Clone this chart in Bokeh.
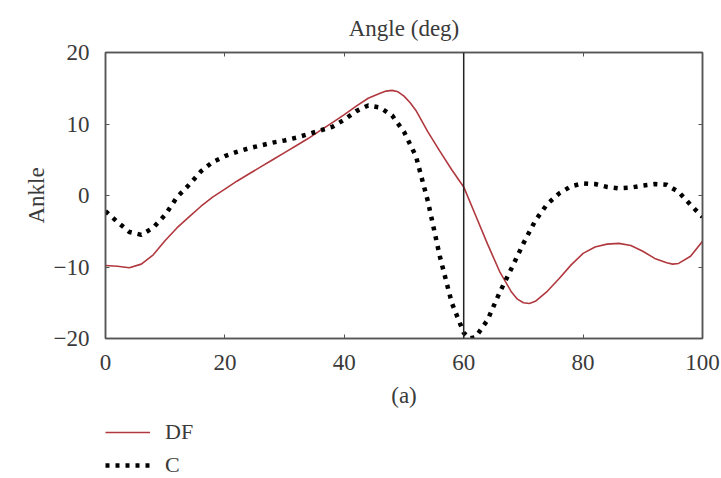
from bokeh.plotting import figure
from bokeh.layouts import column
from bokeh.models import LinearAxis, Span, Legend, LegendItem, FixedTicker, Range1d, Title
from bokeh.embed import file_html
from bokeh.resources import INLINE

x_df = [0, 2, 4, 6, 8, 10, 12, 14, 16, 18, 20, 22, 24, 26, 28, 30, 32, 34, 36, 38, 40,
        42, 44, 46, 47, 48, 49, 50, 51, 52, 54, 56, 58, 60, 62, 64, 66, 68, 69, 70, 71, 72,
        74, 76, 78, 80, 82, 84, 86, 88, 90, 92, 94, 95, 96, 98, 100]
df_vals = [-9.8, -9.9, -10.1, -9.6, -8.3, -6.3, -4.5, -3.0, -1.5, -0.2, 0.9, 2.0, 3.0, 4.0,
           5.0, 6.0, 7.0, 8.0, 9.1, 10.2, 11.3, 12.5, 13.6, 14.3, 14.6, 14.7, 14.5, 13.9,
           13.0, 11.9, 8.9, 6.2, 3.6, 1.2, -2.8, -6.8, -10.6, -13.5, -14.5, -15.0, -15.1,
           -14.8, -13.4, -11.6, -9.7, -8.1, -7.2, -6.8, -6.7, -7.0, -7.8, -8.8, -9.4, -9.6,
           -9.5, -8.5, -6.4]

x_c = [0, 2, 4, 6, 8, 10, 12, 14, 16, 18, 20, 22, 24, 26, 28, 30, 32, 34, 36, 38, 40,
       42, 44, 46, 48, 50, 52, 54, 56, 58, 60, 61, 62, 64, 66, 68, 70, 72, 74, 76, 78, 80,
       82, 84, 86, 88, 90, 92, 94, 96, 98, 100]
c_vals = [-2.2, -3.7, -5.1, -5.5, -4.5, -2.7, -0.2, 1.5, 3.4, 4.7, 5.5, 6.1, 6.6, 7.0, 7.4,
          7.7, 8.1, 8.6, 9.1, 9.6, 10.6, 11.8, 12.6, 12.3, 11.2, 8.9, 5.5, -0.8, -8.5, -15.0,
          -19.2, -20.0, -19.8, -17.4, -13.6, -10.2, -6.7, -3.5, -1.2, 0.3, 1.3, 1.7, 1.6, 1.2,
          1.0, 1.1, 1.4, 1.6, 1.5, 0.5, -1.3, -3.0]

x_ticks = [0, 20, 40, 60, 80, 100]
y_ticks = [-20, -10, 0, 10, 20]
marker_x = 60
series_names = ["DF", "C"]

FONT = "Liberation Serif"
TXT = "#3a3a3a"
AX = "#555555"
DF_COLOR = "#b0383e"

p = figure(frame_width=597, frame_height=286, output_backend="svg", toolbar_location=None,
           x_range=Range1d(0, 100), y_range=Range1d(-20, 20),
           min_border_left=105, min_border_right=19, min_border_top=52, min_border_bottom=78,
           x_axis_label="(a)", y_axis_label="Ankle")
p.title.visible = False
bottom = p.below[0]
left = p.left[0]
p.grid.grid_line_color = None
p.outline_line_color = AX
p.outline_line_width = 1.5

bottom.ticker = FixedTicker(ticks=x_ticks)
left.ticker = FixedTicker(ticks=y_ticks)

top = LinearAxis(ticker=FixedTicker(ticks=x_ticks), major_label_text_font_size="0px")
right = LinearAxis(ticker=FixedTicker(ticks=y_ticks), major_label_text_font_size="0px")
p.add_layout(top, "above")
p.add_layout(right, "right")
p.add_layout(Title(text="Angle (deg)", align="center", text_font=FONT, text_font_size="23px",
                   text_font_style="normal", text_color=TXT, standoff=23), "above")

for ax in [bottom, left, top, right]:
    ax.axis_line_color = AX
    ax.axis_line_width = 1.5
    ax.major_tick_in = 4
    ax.major_tick_out = 0
    ax.major_tick_line_color = AX
    ax.minor_tick_line_color = None
    ax.major_label_text_font = FONT
    ax.major_label_text_color = TXT
    ax.axis_label_text_font = FONT
    ax.axis_label_text_color = TXT
    ax.axis_label_text_font_style = "normal"
for ax in [bottom, left]:
    ax.major_label_text_font_size = "23px"
    ax.axis_label_text_font_size = "23px"
    ax.major_label_standoff = 16
top.major_label_standoff = 0
right.major_label_standoff = 0
bottom.axis_label_standoff = 10
left.axis_label_standoff = 2

p.line(x_df, df_vals, line_color=DF_COLOR, line_width=1.6)
p.line(x_c, c_vals, line_color="black", line_width=4.5, line_dash="4 6")
p.add_layout(Span(location=marker_x, dimension="height", line_color="#222222", line_width=1.5))

# legend strip below the chart (its view range is outside the data, so only the legend shows)
lg = figure(frame_width=721, frame_height=62, output_backend="svg", toolbar_location=None,
            x_axis_location=None, y_axis_location=None, min_border=0,
            x_range=Range1d(500, 501), y_range=Range1d(500, 501))
lg.grid.grid_line_color = None
lg.outline_line_color = None
l_df = lg.line(x_df, df_vals, line_color=DF_COLOR, line_width=1.6)
l_c = lg.line(x_c, c_vals, line_color="black", line_width=4.5, line_dash="4 6")
legend = Legend(items=[LegendItem(label=series_names[0], renderers=[l_df]),
                       LegendItem(label=series_names[1], renderers=[l_c])],
                location=(105, 0), orientation="vertical",
                label_text_font=FONT, label_text_font_size="22px", label_text_color=TXT,
                glyph_width=45, glyph_height=22, label_height=22, spacing=7,
                label_standoff=15, padding=5, margin=0, border_line_color=None,
                background_fill_alpha=0)
lg.add_layout(legend)

page = column(p, lg, spacing=0)
open("out.html", "w").write(file_html(page, INLINE))
